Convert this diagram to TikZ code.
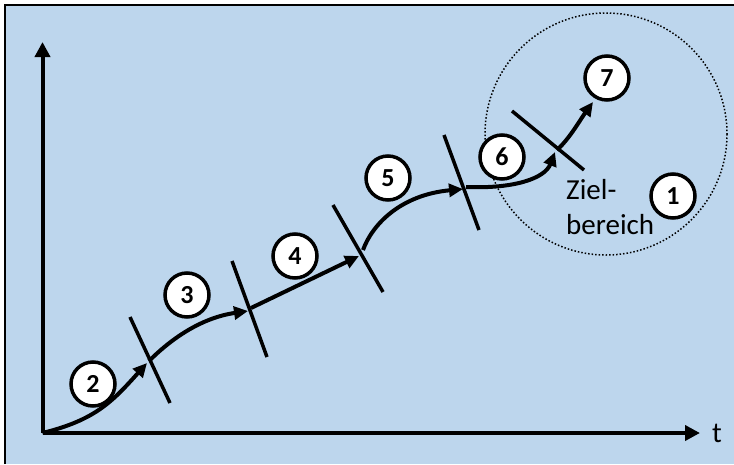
\documentclass[tikz,border=0pt]{standalone}
\usepackage{fontspec}
\setmainfont{Carlito}
\usetikzlibrary{arrows.meta}
\definecolor{bgblue}{RGB}{189,214,237}
\begin{document}
\begin{tikzpicture}[x=1pt,y=-1pt,
  axis/.style={line width=4pt,-{Triangle[length=15pt,width=15pt]}},
  flow/.style={line width=4pt,-{Triangle[length=14pt,width=13pt]}},
  tickline/.style={line width=3.5pt},
  numcirc/.style={circle,draw,fill=white,line width=3.5pt,minimum size=44pt,inner sep=0pt,
    font=\fontsize{26}{26}\selectfont\bfseries},
  lbl/.style={inner sep=0pt,font=\fontsize{29}{35}\selectfont}]
\useasboundingbox (0,0) rectangle (734,464);
\fill[white] (0,0) rectangle (734,464);
\fill[bgblue] (5,5) rectangle (734,464);
\draw[line width=2.7pt] (5,464) -- (5,5) -- (734,5);

% target area
\draw[dotted,line width=1.5pt] (606,134) circle[radius=121];

% axes
\coordinate (O) at (42.5,433);
\coordinate (ytip) at (42.5,42);
\coordinate (xtip) at (700,433);
\draw[axis] (O) -- (ytip);
\draw[axis] (O) -- (xtip);
\node[lbl,anchor=center] (t) at (717,433) {t};

% ticks
\coordinate (t1a) at (130,317); \coordinate (t1b) at (170,403);
\coordinate (t2a) at (232,261); \coordinate (t2b) at (267,357);
\coordinate (t3a) at (333,205); \coordinate (t3b) at (383,292);
\coordinate (t4a) at (444,135); \coordinate (t4b) at (479,230);
\coordinate (t5a) at (512,111); \coordinate (t5b) at (584,170);
\foreach \i in {1,...,5} {\draw[tickline] (t\i a) -- (t\i b);}

% path points
\coordinate (a1) at (147,363); \coordinate (s2) at (149,361);
\coordinate (a2) at (248,311); \coordinate (s3) at (251,308);
\coordinate (a3) at (359,256); \coordinate (s4) at (363,250);
\coordinate (a4) at (463,189); \coordinate (s5) at (466,187);
\coordinate (a5) at (555,152); \coordinate (s6) at (557,150);
\coordinate (a6) at (593,102);

\draw[flow] (O) .. controls (95,420) and (112,402) .. (a1);
\draw[flow] (s2) .. controls (170,340) and (200,318) .. (a2);
\draw[flow] (s3) -- (a3);
\draw[flow] (s4) .. controls (372,225) and (400,195) .. (a4);
\draw[flow] (s5) .. controls (515,189) and (545,178) .. (a5);
\draw[flow] (s6) .. controls (570,138) and (580,120) .. (a6);

% numbered circles
\node[numcirc] (c2) at (93,384) {2};
\node[numcirc] (c3) at (187,295) {3};
\node[numcirc] (c4) at (295,256) {4};
\node[numcirc] (c5) at (388,178) {5};
\node[numcirc] (c6) at (502,157) {6};
\node[numcirc] (c7) at (607,78) {7};
\node[numcirc] (c1) at (673,196) {1};

\node[lbl,anchor=west,align=left] (ziel) at (566,207) {Ziel-\\bereich};
\end{tikzpicture}
\end{document}
